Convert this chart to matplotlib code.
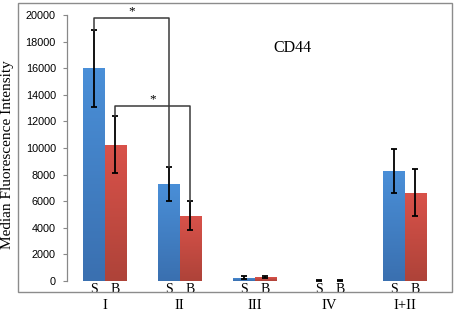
import numpy as np
import matplotlib
matplotlib.use("Agg")
import matplotlib.pyplot as plt
from matplotlib.colors import LinearSegmentedColormap
from matplotlib.patches import Rectangle

# data
groups = ["I", "II", "III", "IV", "I+II"]
s_vals = [16000, 7300, 250, 30, 8290]
s_err = [2900, 1290, 100, 10, 1640]
b_vals = [10250, 4920, 300, 30, 6650]
b_err = [2150, 1090, 100, 10, 1750]
yticks = [0, 2000, 4000, 6000, 8000, 10000, 12000, 14000, 16000, 18000, 20000]

# significance brackets: (group_a, group_b, series, left_bottom, right_bottom, top)
brackets = [
    (0, 1, "S", 18900, 8590, 19750),
    (0, 1, "B", 12400, 6010, 13150),
]

serif = "Liberation Serif"
sans = "Liberation Sans"

fig = plt.figure(figsize=(4.54, 3.13), dpi=100)
ax = fig.add_axes([67 / 454, 32 / 313, 375 / 454, 266 / 313])

x = np.arange(len(groups))
w = 0.287

blue_cmap = LinearSegmentedColormap.from_list("b", ["#3a70b0", "#4a8fd8"])
red_cmap = LinearSegmentedColormap.from_list("r", ["#ae4339", "#d9524a"])
grad = np.linspace(0, 1, 64).reshape(-1, 1)

s_bars = ax.bar(x - w / 2, s_vals, w, color="#4282c8", zorder=2)
b_bars = ax.bar(x + w / 2, b_vals, w, color="#c94b41", zorder=2)
for bars, cmap in [(s_bars, blue_cmap), (b_bars, red_cmap)]:
    for bar in bars:
        bx, by = bar.get_x(), bar.get_y()
        bw, bh = bar.get_width(), bar.get_height()
        im = ax.imshow(grad, cmap=cmap, origin="lower", aspect="auto",
                       extent=[bx, bx + bw, by, by + bh], zorder=2.5)
        im.set_clip_path(bar)

ax.errorbar(x - w / 2, s_vals, yerr=s_err, fmt="none", ecolor="black",
            elinewidth=1.3, capsize=2.2, capthick=1.3, zorder=4)
ax.errorbar(x + w / 2, b_vals, yerr=b_err, fmt="none", ecolor="black",
            elinewidth=1.3, capsize=2.2, capthick=1.3, zorder=4)

for ga, gb, series, lb, rb, top in brackets:
    off = -w / 2 if series == "S" else w / 2
    xa, xb = x[ga] + off, x[gb] + off
    ax.plot([xa, xa, xb, xb], [lb, top, top, rb], color="#3a3a3a", lw=1.1,
            clip_on=False, zorder=5)
    ax.text((xa + xb) / 2, top + 60, "*", ha="center", va="bottom",
            fontsize=9.5, family=serif, clip_on=False)

ax.set_xlim(-0.5, len(groups) - 0.5)
ax.set_ylim(0, 20000)
ax.set_yticks(yticks)
ax.set_yticklabels([str(t) for t in yticks], fontsize=7.8, family=sans)
ax.tick_params(axis="y", direction="out", length=3, color="#888888", pad=5)
ax.set_xticks([])
for side in ["top", "right", "bottom"]:
    ax.spines[side].set_visible(False)
ax.spines["left"].set_color("#888888")
ax.spines["left"].set_linewidth(0.9)

# S / B labels under each bar and group labels
for i in x:
    ax.text(i - w / 2, -120, "S", ha="center", va="top", fontsize=10,
            family=serif, clip_on=False)
    ax.text(i + w / 2, -120, "B", ha="center", va="top", fontsize=10,
            family=serif, clip_on=False)
    ax.text(i, -1380, groups[i], ha="center", va="top", fontsize=10.5,
            family=serif, clip_on=False)

ax.text(2.5, 17500, "CD44", ha="center", va="center", fontsize=11.5, family=serif)

fig.text(8 / 454, 0.505, "Median Fluorescence Intensity", rotation=90,
         ha="center", va="center", fontsize=11, family=serif)

fig.patches.append(Rectangle((18 / 454, 21 / 313), 434 / 454, 289 / 313,
                             transform=fig.transFigure, fill=False,
                             edgecolor="#8c8c8c", lw=1.0))

fig.savefig("out.png", dpi=100)
